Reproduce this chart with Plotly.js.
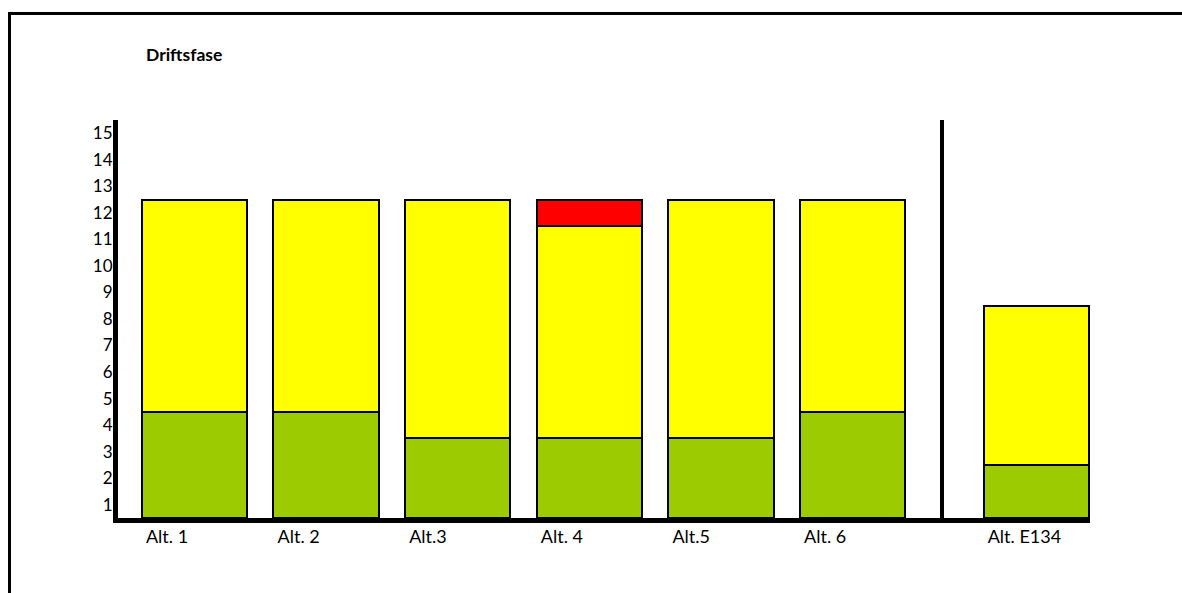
<!DOCTYPE html>
<html>
<head>
<meta charset="utf-8">
<script src="https://cdn.plot.ly/plotly-3.0.1.min.js"></script>
<style>
  html, body { margin: 0; padding: 0; background: #fff; }
  #wrap { position: relative; width: 1182px; height: 593px; }
  #chart { width: 1182px; height: 593px; }
  /* outer frame: top and left rules */
  #frame { position: absolute; left: 8px; top: 12px; right: 0; bottom: -4px;
           border-top: 3px solid #000; border-left: 3px solid #000; pointer-events: none; }
</style>
</head>
<body>
<div id="wrap">
  <div id="chart"></div>
  <div id="frame"></div>
</div>
<script>
// Alternatives in the main group and the separate E134 alternative
const mainCats = ["Alt. 1", "Alt. 2", "Alt.3", "Alt. 4", "Alt.5", "Alt. 6"];
const greenMain = [4, 4, 3, 3, 3, 4];
const yellowMain = [8, 8, 9, 8, 9, 8];
const redMain = [0, 0, 0, 1, 0, 0];

const sideCats = ["Alt. E134"];
const greenSide = [2];
const yellowSide = [6];

// y tick labels sit in the middle of each unit band
const yTickVals = [0.5, 1.5, 2.5, 3.5, 4.5, 5.5, 6.5, 7.5, 8.5, 9.5, 10.5, 11.5, 12.5, 13.5, 14.5];
const yTickText = ["1", "2", "3", "4", "5", "6", "7", "8", "9", "10", "11", "12", "13", "14", "15"];

const GREEN = "#9BCB00", YELLOW = "#FFFF00", RED = "#FF0000";
const outline = { color: "#000", width: 2 };

function bar(x, y, color, xa, ya) {
  return { type: "bar", x: x, y: y, xaxis: xa, yaxis: ya,
           marker: { color: color, line: outline },
           hoverinfo: "x+y", showlegend: false };
}

const data = [
  bar(mainCats, greenMain, GREEN, "x", "y"),
  bar(mainCats, yellowMain, YELLOW, "x", "y"),
  bar(mainCats, redMain, RED, "x", "y"),
  bar(sideCats, greenSide, GREEN, "x2", "y2"),
  bar(sideCats, yellowSide, YELLOW, "x2", "y2")
];

const FONT = "Lato, 'Open Sans', sans-serif";
const xCommon = {
  type: "category", showgrid: false, zeroline: false,
  showline: true, linecolor: "#000", linewidth: 5,
  ticks: "", tickfont: { family: FONT, size: 18, color: "#000" },
  ticklabelposition: "outside right", ticklabelshift: -51, ticklabelstandoff: -2,
  fixedrange: true
};

const layout = {
  width: 1182, height: 593,
  margin: { l: 118, r: 92, t: 120, b: 75 },
  paper_bgcolor: "#fff", plot_bgcolor: "#fff",
  barmode: "stack", bargap: 0.2,
  title: { text: "<b>Driftsfase</b>", xref: "container", yref: "container",
           x: 146 / 1182, xanchor: "left", y: 1 - 55 / 593, yanchor: "middle",
           font: { family: FONT, size: 17.5, color: "#000" } },
  xaxis: Object.assign({}, xCommon, { domain: [0, 0.8498], range: [-0.581, 5.695], anchor: "y" }),
  xaxis2: Object.assign({}, xCommon, { domain: [0.8498, 1], range: [-0.703, 0.41], anchor: "y2" }),
  yaxis: {
    range: [0, 15], showgrid: false, zeroline: false,
    showline: true, linecolor: "#000", linewidth: 5,
    ticks: "", tickvals: yTickVals, ticktext: yTickText, ticklabelstandoff: -3,
    tickfont: { family: FONT, size: 17, color: "#000" }, anchor: "x", fixedrange: true
  },
  yaxis2: {
    range: [0, 15], showgrid: false, zeroline: false,
    showline: true, linecolor: "#000", linewidth: 4,
    showticklabels: false, ticks: "", anchor: "x2", fixedrange: true
  }
};

Plotly.newPlot("chart", data, layout, { displayModeBar: false, staticPlot: true });
</script>
</body>
</html>
